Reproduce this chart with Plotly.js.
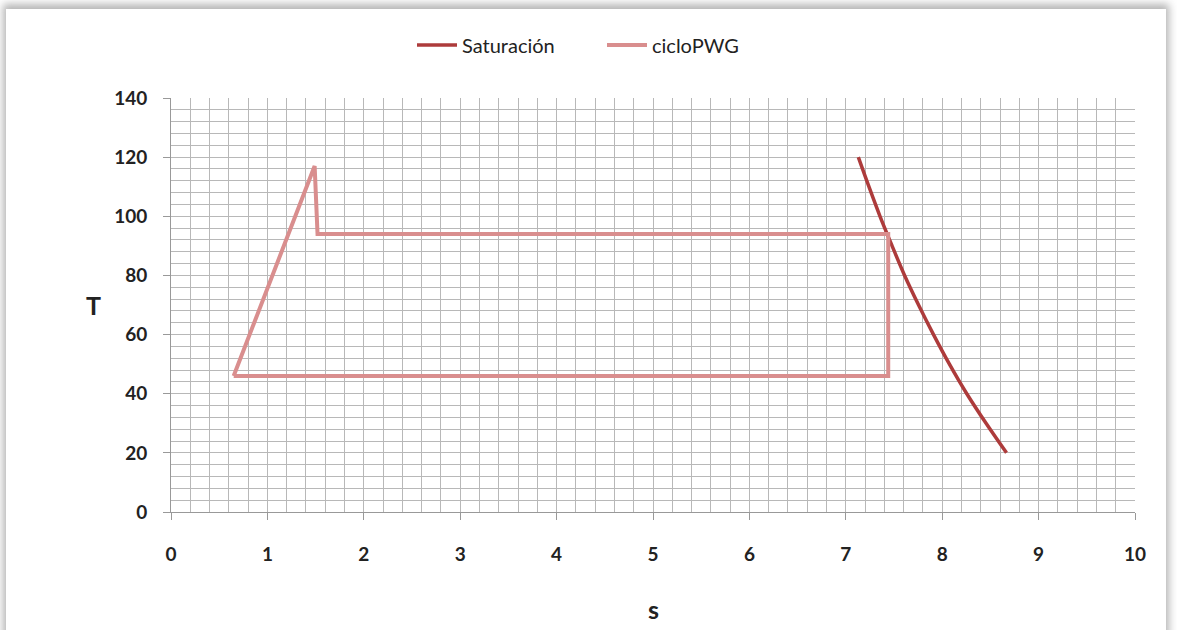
<!DOCTYPE html>
<html>
<head>
<meta charset="utf-8">
<script src="https://cdn.plot.ly/plotly-3.0.1.min.js"></script>
<style>
html,body{margin:0;padding:0;background:#fff;width:1177px;height:630px;overflow:hidden;}
#frame{position:absolute;left:6px;top:9px;width:1160px;height:640px;background:#fff;
  box-shadow:0 -2px 8px 3px rgba(120,120,120,0.55);}
#chart{position:absolute;left:0;top:0;width:1177px;height:630px;}
</style>
</head>
<body>
<div id="frame"></div>
<div id="chart"></div>
<script>
// Saturation curve (s, T)
var satS = [7.13, 7.24, 7.355, 7.48, 7.61, 7.755, 7.91, 8.075, 8.255, 8.455, 8.667];
var satT = [120, 110, 100, 90, 80, 70, 60, 50, 40, 30, 20];
// Cycle cicloPWG (s, T)
var cycS = [0.65, 1.49, 1.52, 7.44, 7.44, 0.65];
var cycT = [46, 117, 94, 94, 46, 46];
var xTicks = [0,1,2,3,4,5,6,7,8,9,10];
var yTicks = [0,20,40,60,80,100,120,140];

var gridCol = '#b8b8b8';
var font = 'Lato, Open Sans, sans-serif';

var traces = [
  {x: satS, y: satT, mode: 'lines', name: 'Saturación', line: {color: '#AD3B3B', width: 3.5, shape: 'spline'}},
  {x: cycS, y: cycT, mode: 'lines', name: 'cicloPWG', line: {color: '#D98E8E', width: 4}}
];

var layout = {
  width: 1177, height: 630,
  paper_bgcolor: 'rgba(0,0,0,0)', plot_bgcolor: '#fff',
  margin: {l: 171, r: 42, t: 98, b: 118},
  font: {family: font, color: '#222', size: 16},
  showlegend: true,
  legend: {orientation: 'h', x: 0.25, xanchor: 'left', y: 1.128, yanchor: 'middle',
           font: {size: 20, color: '#222'}, traceorder: 'normal', itemwidth: 40, entrywidth: 135},
  xaxis: {
    range: [0, 10], tickvals: xTicks, ticktext: xTicks.map(String),
    showgrid: true, gridcolor: gridCol, gridwidth: 1,
    minor: {dtick: 0.2, showgrid: true, gridcolor: gridCol, gridwidth: 1},
    showline: true, linecolor: '#999', linewidth: 1,
    ticks: 'outside', ticklen: 7, tickcolor: '#999', tickwidth: 1,
    zeroline: false, tickfont: {size: 19, color: '#222', weight: 'bold'},
    ticklabelstandoff: 18,
    title: {text: ''}
  },
  yaxis: {
    range: [0, 140], tickvals: yTicks, ticktext: yTicks.map(String),
    showgrid: true, gridcolor: gridCol, gridwidth: 1,
    minor: {dtick: 4, showgrid: true, gridcolor: gridCol, gridwidth: 1},
    showline: true, linecolor: '#999', linewidth: 1,
    ticks: 'outside', ticklen: 7, tickcolor: '#999', tickwidth: 1,
    zeroline: false, tickfont: {size: 19, color: '#222', weight: 'bold'},
    ticklabelstandoff: 12,
    title: {text: ''}
  },
  annotations: [
    {text: '<b>T</b>', xref: 'paper', yref: 'paper', x: -0.08, y: 0.5, xanchor: 'center', yanchor: 'middle',
     showarrow: false, font: {size: 25, color: '#222'}},
    {text: '<b>s</b>', xref: 'paper', yref: 'paper', x: 0.5, y: -0.235, xanchor: 'center', yanchor: 'middle',
     showarrow: false, font: {size: 25, color: '#222'}}
  ]
};

Plotly.newPlot('chart', traces, layout, {displayModeBar: false, staticPlot: true});
</script>
</body>
</html>
